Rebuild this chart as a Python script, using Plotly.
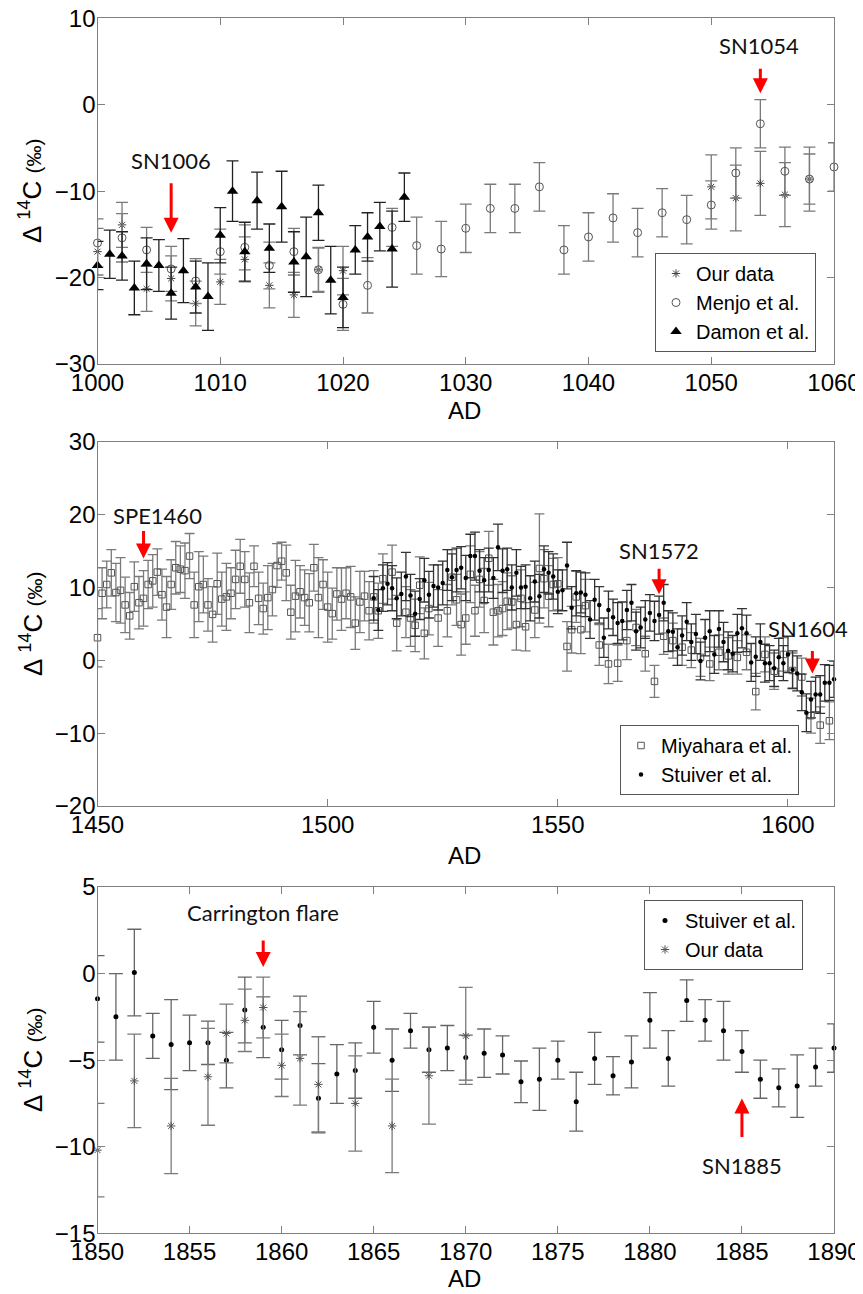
import plotly.graph_objects as go

# ---------------- Panel 1 (AD 1000-1060) ----------------
our1_year = [1000, 1002, 1004, 1006, 1008, 1010, 1012, 1014, 1016, 1018, 1020,
             1050, 1052, 1054, 1056, 1058]
our1_val = [-17.0, -13.9, -21.3, -20.1, -23.0, -20.5, -17.9, -20.9, -22.0, -19.1, -19.2,
            -9.5, -10.8, -9.1, -10.4, -8.6]
our1_err = [2.7, 2.6, 2.6, 2.6, 2.6, 2.6, 2.6, 2.6, 2.6, 2.6, 2.8,
            3.7, 3.8, 3.7, 3.7, 3.7]

menjo_year = [1000, 1002, 1004, 1006, 1008, 1010, 1012, 1014, 1016, 1018, 1020, 1022,
              1024, 1026, 1028, 1030, 1032, 1034, 1036, 1038, 1040, 1042, 1044, 1046,
              1048, 1050, 1052, 1054, 1056, 1058, 1060]
menjo_val = [-16.0, -15.4, -16.8, -19.0, -20.4, -17.0, -16.5, -18.6, -17.0, -19.1, -23.1, -20.9,
             -14.2, -16.3, -16.7, -14.3, -12.0, -12.0, -9.5, -16.8, -15.3, -13.1, -14.8, -12.5,
             -13.3, -11.6, -7.9, -2.2, -7.7, -8.6, -7.2]
menjo_err = [2.8, 2.8, 2.6, 2.6, 2.6, 2.6, 2.6, 2.7, 2.7, 2.5, 3.0, 3.2,
             2.2, 3.3, 3.2, 2.8, 2.8, 2.8, 2.8, 2.8, 2.8, 2.8, 2.8, 2.8,
             2.8, 2.8, 2.9, 2.8, 2.8, 2.9, 2.8]

damon_year = [1000, 1001, 1002, 1003, 1004, 1005, 1006, 1007, 1008, 1009, 1010, 1011, 1012,
              1013, 1014, 1015, 1016, 1017, 1018, 1019, 1020, 1021, 1022, 1023, 1024, 1025]
damon_val = [-18.6, -17.3, -17.5, -21.2, -18.4, -18.6, -21.8, -19.2, -21.1, -22.2, -15.1, -10.0, -17.0,
             -11.1, -16.6, -11.8, -18.2, -17.6, -12.5, -20.3, -22.3, -16.8, -15.3, -14.1, -16.7, -10.7]
damon_err = [2.8, 2.8, 2.8, 3.1, 3.0, 3.0, 3.0, 3.7, 3.0, 3.9, 3.2, 3.5, 3.4,
             3.3, 2.8, 4.1, 3.5, 4.6, 3.2, 3.9, 3.5, 2.8, 2.8, 2.8, 4.4, 2.8]

# ---------------- Panel 2 (AD 1450-1610) ----------------
miya_year = [1450, 1451, 1452, 1453, 1454, 1455, 1456, 1457, 1458, 1459,
             1460, 1461, 1462, 1463, 1464, 1465, 1466, 1467, 1468, 1469,
             1470, 1471, 1472, 1473, 1474, 1475, 1476, 1477, 1478, 1479,
             1480, 1481, 1482, 1483, 1484, 1485, 1486, 1487, 1488, 1489,
             1490, 1491, 1492, 1493, 1494, 1495, 1496, 1497, 1498, 1499,
             1500, 1501, 1502, 1503, 1504, 1505, 1506, 1507, 1508, 1509,
             1510, 1511, 1512, 1514, 1515, 1517, 1518, 1519, 1520, 1521,
             1522, 1524, 1526, 1527, 1528, 1529, 1530, 1531, 1532, 1533,
             1534, 1535, 1536, 1537, 1538, 1539, 1540, 1541, 1542, 1543,
             1545, 1546, 1547, 1548, 1549, 1550, 1552, 1553, 1554, 1555,
             1556, 1559, 1561, 1563, 1565, 1567, 1569, 1571, 1573, 1575,
             1577, 1579, 1581, 1583, 1585, 1587, 1589, 1591, 1593, 1595,
             1597, 1599, 1601, 1603, 1605, 1607, 1609]
miya_val = [3.1, 9.2, 10.4, 12.0, 9.3, 9.6, 7.6, 6.1, 10.1, 7.9,
            8.5, 10.4, 10.9, 12.1, 9.0, 7.3, 10.4, 12.7, 12.5, 12.3,
            14.3, 7.6, 10.1, 10.4, 7.6, 6.3, 10.5, 8.4, 8.7, 9.2,
            11.1, 12.9, 11.1, 7.9, 12.9, 8.5, 7.1, 8.6, 9.7, 13.0,
            13.6, 12.0, 6.6, 8.8, 9.4, 8.6, 7.9, 12.7, 8.6, 10.4,
            7.3, 6.4, 9.1, 8.4, 9.2, 8.7, 5.1, 8.0, 8.8, 6.8,
            8.7, 6.8, 11.2, 12.1, 5.1, 6.6, 5.8, 4.8, 10.3, 3.7,
            7.1, 5.8, 6.8, 11.4, 8.3, 4.9, 5.8, 11.8, 6.8, 11.1,
            8.2, 14.0, 6.6, 6.8, 7.1, 8.1, 8.0, 4.9, 8.5, 4.6,
            6.9, 12.6, 11.2, 8.8, 10.4, 10.5, 1.9, 4.2, 8.7, 4.2,
            7.5, 2.1, -0.5, -0.4, 2.7, 4.5, 0.9, -2.9, 3.3, 2.7,
            1.8, 1.4, 0.4, -0.5, 1.1, 0.6, 0.4, 1.1, -4.3, 0.8,
            -1.5, 0.8, -1.4, -2.3, -7.6, -8.9, -8.3]
miya_err = [4.0, 3.5, 3.2, 3.2, 4.0, 4.5, 3.8, 3.2, 3.4, 3.6,
            3.8, 3.3, 3.6, 3.2, 3.5, 4.2, 3.4, 3.6, 3.2, 3.8,
            3.1, 4.5, 4.8, 3.9, 3.6, 3.8, 4.2, 3.7, 4.6, 3.5,
            4.0, 3.7, 3.8, 4.1, 2.8, 3.6, 3.5, 4.4, 3.6, 3.0,
            2.6, 3.8, 3.7, 4.9, 3.6, 3.8, 4.0, 3.2, 5.5, 3.4,
            4.8, 3.5, 3.6, 4.3, 3.5, 4.2, 3.6, 4.2, 3.4, 4.0,
            3.6, 3.8, 3.4, 3.7, 3.8, 3.5, 3.9, 3.6, 3.9, 3.5,
            3.6, 3.9, 3.6, 3.8, 3.5, 4.2, 3.6, 3.9, 3.5, 3.8,
            4.4, 3.7, 4.5, 3.6, 3.7, 3.9, 3.6, 3.5, 3.9, 3.3,
            3.8, 7.5, 4.0, 4.2, 3.6, 3.6, 3.4, 3.2, 3.5, 3.3,
            3.6, 2.8, 2.7, 2.5, 2.6, 2.5, 2.4, 2.2, 2.5, 2.4,
            2.5, 2.4, 2.6, 2.3, 2.4, 2.5, 2.3, 2.4, 2.5, 2.4,
            2.5, 2.3, 2.4, 2.6, 2.4, 2.5, 2.6]

stu2_year = [1510, 1511, 1512, 1513, 1514, 1515, 1516, 1517, 1518, 1519,
             1520, 1521, 1522, 1523, 1524, 1525, 1526, 1527, 1528, 1529,
             1530, 1531, 1532, 1533, 1534, 1535, 1536, 1537, 1538, 1539,
             1540, 1541, 1542, 1543, 1544, 1545, 1546, 1547, 1548, 1549,
             1550, 1551, 1552, 1553, 1554, 1555, 1556, 1557, 1558, 1559,
             1560, 1561, 1562, 1563, 1564, 1565, 1566, 1567, 1568, 1569,
             1570, 1571, 1572, 1573, 1574, 1575, 1576, 1577, 1578, 1579,
             1580, 1581, 1582, 1583, 1584, 1585, 1586, 1587, 1588, 1589,
             1590, 1591, 1592, 1593, 1594, 1595, 1596, 1597, 1598, 1599,
             1600, 1601, 1602, 1603, 1604, 1605, 1606, 1607, 1608, 1609,
             1610]
stu2_val = [8.5, 6.9, 9.9, 10.5, 9.9, 8.5, 9.1, 11.5, 8.9, 6.4,
            8.4, 11.0, 9.0, 10.2, 10.0, 10.6, 12.4, 11.4, 12.4, 12.7,
            11.3, 14.3, 14.3, 12.3, 11.0, 12.4, 11.3, 15.5, 12.3, 12.5,
            10.0, 12.0, 10.0, 10.1, 8.5, 10.8, 8.8, 12.5, 12.0, 11.5,
            9.4, 9.6, 13.0, 7.2, 9.2, 9.3, 9.0, 5.6, 8.3, 7.6,
            3.1, 6.9, 5.9, 5.1, 5.4, 6.9, 7.9, 4.0, 4.5, 5.6,
            6.5, 5.4, 6.2, 7.9, 4.0, 3.9, 1.8, 3.4, 5.3, 2.5,
            3.6, -0.1, 3.1, 4.0, 0.8, 4.3, 2.5, 1.3, 0.9, 3.7,
            4.4, 3.7, -0.3, 0.5, 2.5, -0.4, -0.4, -1.1, 0.4, -0.4,
            0.8, -1.3, -1.8, -4.4, -7.2, -5.4, -4.7, -4.7, -3.1, -3.1,
            -2.6]
stu2_err = [3.0, 2.8, 3.2, 2.9, 3.1, 2.8, 3.0, 3.3, 2.9, 3.1,
            2.8, 3.0, 3.2, 2.9, 3.1, 3.0, 2.8, 3.2, 3.0, 2.9,
            3.1, 3.0, 3.3, 2.9, 3.1, 3.0, 2.8, 3.2, 3.0, 2.9,
            3.1, 3.2, 2.9, 3.0, 3.1, 2.8, 3.0, 3.2, 2.9, 3.1,
            3.0, 2.8, 3.2, 2.9, 3.1, 2.8, 3.0, 2.6, 2.8, 2.5,
            2.7, 2.6, 2.5, 2.8, 2.6, 2.7, 2.5, 2.6, 2.8, 2.6,
            2.5, 2.7, 2.6, 2.5, 2.8, 2.6, 2.5, 2.7, 2.6, 2.5,
            2.7, 2.6, 2.5, 2.8, 2.6, 2.5, 2.7, 2.6, 2.5, 2.6,
            2.7, 2.5, 2.6, 2.7, 2.5, 2.6, 2.4, 2.5, 2.6, 2.4,
            2.5, 2.6, 2.4, 2.5, 2.6, 2.5, 2.4, 2.6, 2.5, 2.4,
            2.5]

# ---------------- Panel 3 (AD 1850-1890) ----------------
stu3_year = [1850, 1851, 1852, 1853, 1854, 1855, 1856, 1857, 1858, 1859,
             1860, 1861, 1862, 1863, 1864, 1865, 1866, 1867, 1868, 1869,
             1870, 1871, 1872, 1873, 1874, 1875, 1876, 1877, 1878, 1879,
             1880, 1881, 1882, 1883, 1884, 1885, 1886, 1887, 1888, 1889, 1890]
stu3_val = [-1.46, -2.5, 0.06, -3.6, -4.1, -4.0, -4.0, -5.0, -2.1, -3.1,
            -4.4, -3.0, -7.2, -5.8, -5.6, -3.1, -5.0, -3.3, -4.4, -4.3,
            -4.85, -4.6, -4.7, -6.25, -6.1, -5.0, -7.4, -4.9, -5.9, -5.1,
            -2.7, -4.9, -1.56, -2.7, -3.3, -4.5, -6.1, -6.6, -6.5, -5.4, -4.3]
stu3_err = [2.5, 2.5, 2.5, 1.3, 2.6, 1.6, 1.25, 1.6, 1.9, 1.75,
            1.7, 1.7, 2.0, 1.7, 1.6, 1.5, 1.8, 1.0, 1.3, 1.3,
            1.3, 1.4, 1.1, 1.2, 1.8, 1.1, 1.7, 1.5, 1.1, 1.5,
            1.6, 1.6, 1.2, 1.2, 1.7, 1.2, 1.1, 1.1, 1.8, 1.1, 1.4]

our3_year = [1850, 1852, 1854, 1856, 1857, 1858, 1859, 1860, 1861, 1862, 1864, 1866, 1868, 1870]
our3_val = [-10.2, -6.2, -8.8, -5.96, -3.46, -2.7, -1.96, -5.3, -4.9, -6.4, -7.5, -8.8, -5.9, -3.6]
our3_err = [2.7, 2.7, 2.75, 2.8, 1.7, 1.8, 1.75, 1.8, 2.7, 2.75, 2.75, 2.7, 2.8, 2.8]

# ---------------- styling ----------------
TICKFONT = dict(family="Liberation Sans", size=24, color="black")
LEGFONT = dict(family="Liberation Sans", size=20, color="black")
LABFONT = dict(family="Lato", size=22, color="#111111")
AXC = "#808080"
GRAY = "#7a7a7a"

# the page body adds an 8px offset; the figure is sized so that it ends at the window edge
W, H = 855, 1286
OFF = 8


def px(xs):
    return (xs - OFF) / W


def py(ys):
    return (H - (ys - OFF)) / H


fig = go.Figure()


def add(x, y, e, name, xa, ya, leg, symbol, size, color, ecolor, lw=1.0, cap=6):
    fig.add_trace(go.Scatter(
        x=x, y=y, mode="markers", name=name, xaxis=xa, yaxis=ya, legend=leg,
        marker=dict(symbol=symbol, size=size, color=color,
                    line=dict(color=color, width=lw)),
        error_y=dict(type="data", array=e, visible=True, color=ecolor,
                     thickness=1.3, width=cap),
        cliponaxis=False,
    ))


add(our1_year, our1_val, our1_err, "Our data", "x", "y", "legend",
    "asterisk-open", 7, "#444444", GRAY)
add(menjo_year, menjo_val, menjo_err, "Menjo et al.", "x", "y", "legend",
    "circle-open", 8, "#555555", GRAY)
add(damon_year, damon_val, damon_err, "Damon et al.", "x", "y", "legend",
    "triangle-up", 10, "black", "#222222", lw=0)

add(miya_year, miya_val, miya_err, "Miyahara et al.", "x2", "y2", "legend2",
    "square-open", 6.5, "#555555", GRAY, cap=5)
add(stu2_year, stu2_val, stu2_err, "Stuiver et al.", "x2", "y2", "legend2",
    "circle", 4.5, "black", "#333333", lw=0, cap=5)

add(stu3_year, stu3_val, stu3_err, "Stuiver et al.", "x3", "y3", "legend3",
    "circle", 5, "black", "#666666", lw=0, cap=7)
add(our3_year, our3_val, our3_err, "Our data", "x3", "y3", "legend3",
    "asterisk-open", 7, "#555555", GRAY, cap=7)


def axstyle(**kw):
    d = dict(showline=True, linecolor=AXC, linewidth=1.3, mirror="ticks",
             ticks="inside", ticklen=7, tickwidth=1.2, tickcolor=AXC,
             showgrid=False, zeroline=False, tickfont=TICKFONT, automargin=False,
             ticklabeloverflow="allow")
    d.update(kw)
    return d


XD = [px(97.5), px(834)]
fig.update_layout(
    template=go.layout.Template(),
    width=W, height=H,
    margin=dict(l=0, r=0, t=0, b=0, autoexpand=False),
    paper_bgcolor="white", plot_bgcolor="white",
    showlegend=True,
    xaxis=axstyle(domain=XD, range=[1000, 1060], dtick=10, anchor="y", ticklabelstandoff=-3),
    yaxis=axstyle(domain=[py(364), py(18.3)], range=[-30, 10], dtick=10, anchor="x",
                  ticklabelstandoff=-4),
    xaxis2=axstyle(domain=XD, range=[1450, 1610], dtick=50, tick0=1450, anchor="y2",
                   ticklabelstandoff=-3),
    yaxis2=axstyle(domain=[py(806), py(441.7)], range=[-20, 30], dtick=10, anchor="x2",
                   ticklabelstandoff=-4),
    xaxis3=axstyle(domain=XD, range=[1850, 1890], dtick=5, anchor="y3", ticklabelstandoff=-3),
    yaxis3=axstyle(domain=[py(1233.3), py(887)], range=[-15, 5], dtick=5, anchor="x3",
                   ticklabelstandoff=-4),
    legend=dict(x=px(816), xanchor="right", y=py(352), yanchor="bottom",
                bordercolor="#555555", borderwidth=1, bgcolor="white", font=LEGFONT,
                tracegroupgap=0),
    legend2=dict(x=px(799), xanchor="right", y=py(795), yanchor="bottom",
                 bordercolor="#555555", borderwidth=1, bgcolor="white", font=LEGFONT,
                 tracegroupgap=0),
    legend3=dict(x=px(803), xanchor="right", y=py(900), yanchor="top",
                 bordercolor="#555555", borderwidth=1, bgcolor="white", font=LEGFONT,
                 tracegroupgap=0),
)

# y-axis titles and "AD" labels
ytitle = "Δ <sup>14</sup>C <span style='font-size:21px'>(‰)</span>"
for ys in [191, 624, 1060]:
    fig.add_annotation(x=px(31), y=py(ys), xref="paper", yref="paper", text=ytitle,
                       xanchor="center", yanchor="middle",
                       textangle=-90, showarrow=False,
                       font=dict(family="Liberation Sans", size=26, color="black"))
for ys in [410, 855, 1278]:
    fig.add_annotation(x=px(465), y=py(ys), xref="paper", yref="paper", text="AD",
                       xanchor="center", yanchor="middle", showarrow=False,
                       font=dict(family="Liberation Sans", size=24, color="black"))

# event labels (text) and red arrows
labels = [
    ("SN1006", 1006, -6.46, "x", "y"),
    ("SN1054", 1053.9, 6.8, "x", "y"),
    ("SPE1460", 1463.0, 19.9, "x2", "y2"),
    ("SN1572", 1572, 15.1, "x2", "y2"),
    ("SN1604", 1604.3, 4.4, "x2", "y2"),
    ("Carrington flare", 1859, 3.5, "x3", "y3"),
    ("SN1885", 1885, -11.06, "x3", "y3"),
]
for t, x, y, xr, yr in labels:
    fig.add_annotation(x=x, y=y, xref=xr, yref=yr, text=t, showarrow=False, font=LABFONT,
                       xanchor="center", yanchor="middle")

arrows = [
    (1006, -14.8, -51, "x", "y"),
    (1054, 1.33, -26, "x", "y"),
    (1460, 13.96, -29, "x2", "y2"),
    (1572, 9.06, -27, "x2", "y2"),
    (1605.3, -1.83, -24, "x2", "y2"),
    (1859, 0.38, -28, "x3", "y3"),
    (1885, -7.21, 40, "x3", "y3"),
]
for x, y, ay, xr, yr in arrows:
    fig.add_annotation(x=x, y=y, xref=xr, yref=yr, ax=0, ay=ay, text="",
                       showarrow=True, arrowhead=2, arrowsize=1.0, arrowwidth=3,
                       arrowcolor="red", standoff=0)

fig.write_html("out.html")
